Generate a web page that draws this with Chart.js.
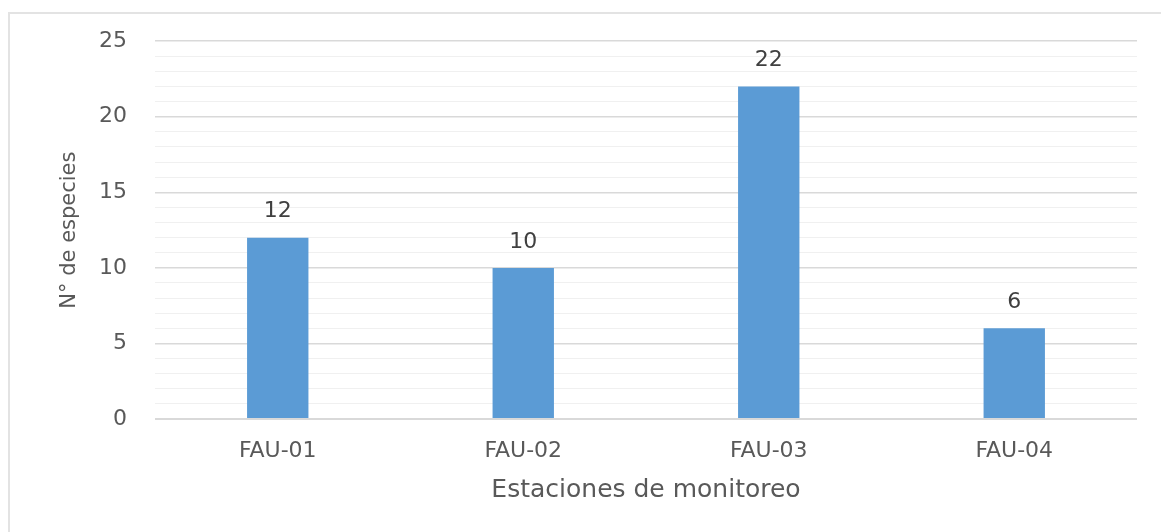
<!DOCTYPE html>
<html>
<head>
<meta charset="utf-8">
<script src="https://cdn.jsdelivr.net/npm/chart.js@4/dist/chart.umd.min.js"></script>
<style>
  html, body { margin: 0; padding: 0; background: #ffffff; overflow: hidden; }
  #wrap { position: relative; width: 1161px; height: 532px; }
  #frame { position: absolute; left: 8px; top: 12px; width: 1300px; height: 700px;
           border: 2px solid #e3e3e3; box-sizing: border-box; }
  canvas { position: absolute; left: 0; top: 0; }
</style>
</head>
<body>
<div id="wrap">
  <div id="frame"></div>
  <canvas id="c" width="1161" height="532"></canvas>
</div>
<script>
const categories = ['FAU-01', 'FAU-02', 'FAU-03', 'FAU-04'];
const speciesCount = [12, 10, 22, 6];
const yMin = 0;
const yMax = 25;
const majorStep = 5;

const FONT = "'DejaVu Sans', sans-serif";
const TEXT = '#595959';

const dataLabels = {
  id: 'dataLabels',
  afterDatasetsDraw(chart) {
    const ctx = chart.ctx;
    const meta = chart.getDatasetMeta(0);
    ctx.save();
    ctx.font = '22px ' + FONT;
    ctx.fillStyle = '#404040';
    ctx.textAlign = 'center';
    ctx.textBaseline = 'middle';
    meta.data.forEach((el, i) => {
      ctx.fillText(String(speciesCount[i]), el.x, el.y - 26);
    });
    ctx.restore();
  }
};

new Chart(document.getElementById('c'), {
  type: 'bar',
  data: {
    labels: categories,
    datasets: [{
      data: speciesCount,
      backgroundColor: '#5b9bd5',
      borderWidth: 0,
      barPercentage: 0.25,
      categoryPercentage: 1.0
    }]
  },
  options: {
    responsive: false,
    animation: false,
    devicePixelRatio: 1,
    layout: { padding: { left: 0, top: 41, right: 24, bottom: 0 } },
    plugins: { legend: { display: false }, tooltip: { enabled: false } },
    scales: {
      x: {
        afterFit(s) { s.height = 113; },
        grid: { display: false, drawTicks: false },
        border: { display: false },
        ticks: { color: TEXT, font: { family: FONT, size: 22 }, padding: 19 },
        title: {
          display: true, text: 'Estaciones de monitoreo', color: TEXT,
          font: { family: FONT, size: 25 }, padding: { top: 27, bottom: 27 }
        }
      },
      y: {
        min: yMin, max: yMax,
        afterFit(s) { s.width = 155; },
        grid: {
          drawTicks: false,
          color: (c) => (c.tick && c.tick.value % majorStep === 0) ? '#d9d9d9' : '#f0f0f0',
          lineWidth: (c) => (c.tick && c.tick.value === 0) ? 2 : (c.tick && c.tick.value % majorStep === 0 ? 1.5 : 1)
        },
        border: { display: false },
        ticks: {
          stepSize: 1, autoSkip: false, padding: 28,
          color: TEXT, font: { family: FONT, size: 22 },
          callback: (v) => (v % majorStep === 0 ? String(v) : '')
        },
        title: {
          display: true, text: 'N° de especies', color: TEXT,
          font: { family: FONT, size: 21 }, padding: { top: 57, bottom: 57 }
        }
      }
    }
  },
  plugins: [dataLabels]
});
</script>
</body>
</html>
